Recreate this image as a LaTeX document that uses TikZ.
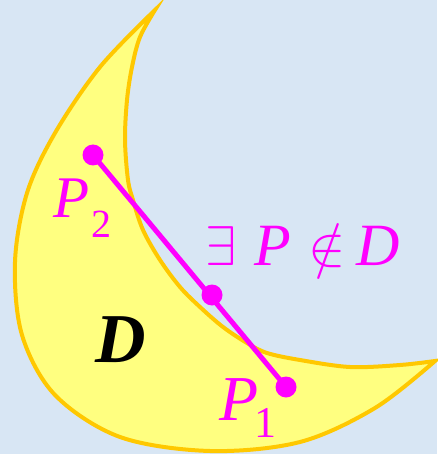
\documentclass[tikz,border=0pt]{standalone}
\usepackage{fontspec}
\usepackage{graphicx}
\setmainfont{Liberation Serif}
\definecolor{bgblue}{RGB}{216,230,244}
\definecolor{moonfill}{RGB}{255,255,128}
\definecolor{moonedge}{RGB}{255,200,0}
\definecolor{mag}{RGB}{255,0,255}
\tikzset{
  dot/.style={circle,fill=mag,inner sep=0pt,minimum size=21pt},
  lab/.style={text=mag,inner sep=0pt,font=\fontsize{60}{62}\selectfont\itshape},
  sub/.style={text=mag,inner sep=0pt,font=\fontsize{40}{42}\selectfont},
  sym/.style={text=mag,inner sep=0pt,font=\fontsize{10}{12}\selectfont},
}
\begin{document}
\begin{tikzpicture}[x=1pt,y=-1pt]
\fill[bgblue] (0,0) rectangle (437,454);
\useasboundingbox (0,0) rectangle (437,454);
% crescent
\filldraw[fill=moonfill,draw=moonedge,line width=4pt,line join=miter,miter limit=20]
  plot[smooth,tension=0.55] coordinates {(155,10) (100,67) (55,133) (27,193) (15,262) (22,335) (55,395) (120,437) (210,451) (300,442) (375,408) (435,361)}
  -- plot[smooth,tension=0.55] coordinates {(435,361) (400,365) (350,367) (300,360) (267,353) (247,343) (223,327) (200,307) (180,287) (160,260) (143,230) (133,200) (128,180) (125,140) (127,100) (132,67) (140,37) (155,10)}
  -- cycle;
% segment
\node[dot] (p2) at (93,155) {};
\node[dot] (p) at (212,295) {};
\node[dot] (p1) at (286,387) {};
\draw[mag,line width=5pt] (p2.center) -- (p1.center);
% labels
\node[lab,anchor=base west,font=\fontsize{59}{60}\selectfont\itshape] (l2) at (53,217) {P};
\node[sub,anchor=base west] (s2) at (91,237) {2};
\node[lab,anchor=base west,font=\fontsize{64}{66}\selectfont\itshape] (l1) at (219,420) {P};
\node[sub,anchor=base west,font=\fontsize{44}{46}\selectfont] (s1) at (254,437) {1};
\node[sym,anchor=base west] (ex) at (205,265) {\scalebox{5.6}{$\exists$}};
\node[lab,anchor=base west] (pp) at (254,265) {P};
\node[sym,anchor=base west] (ni) at (308,265) {\scalebox{5.6}{$\notin$}};
\node[lab,anchor=base west] (dd) at (356,265) {D};
\node[inner sep=0pt,anchor=base west,font=\fontsize{70}{72}\selectfont\bfseries\itshape] (d) at (95,362) {D};
\end{tikzpicture}
\end{document}
